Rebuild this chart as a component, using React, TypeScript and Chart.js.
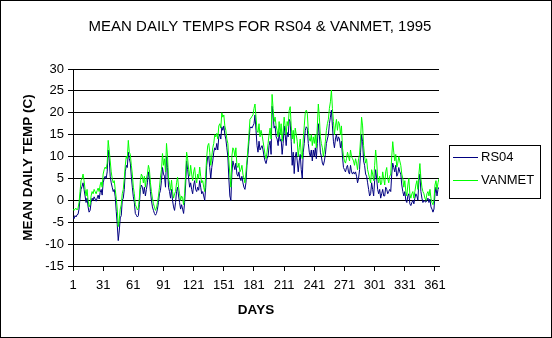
import { useEffect, useRef } from "react";
import { Chart, registerables } from "chart.js";

Chart.register(...registerables);

const FONT = '"Liberation Sans", Arial, sans-serif';
const TITLE = "MEAN DAILY TEMPS FOR RS04 & VANMET, 1995";
const Y_TITLE = "MEAN DAILY TEMP (C)";
const X_TITLE = "DAYS";

const X_TICKS = [1, 31, 61, 91, 121, 151, 181, 211, 241, 271, 301, 331, 361];
const Y_MIN = -15;
const Y_MAX = 30;
const Y_STEP = 5;

const VANMET = [
  -2.0, -2.3, -2.0, -1.8, -2.2, -1.8, -0.5, 2.0, 4.5, 5.0,
  6.0, 4.5, 2.5, 1.0, 2.5, 0.0, -1.5, -1.0, 1.0, 2.0,
  1.5, 2.5, 2.0, 1.5, 2.2, 2.8, 2.0, 3.5, 4.2, 3.0,
  6.0, 7.0, 7.6, 7.2, 8.5, 13.7, 11.5, 9.0, 6.5, 5.0,
  4.0, 4.5, 2.5, 0.5, -2.0, -6.0, -4.5, -2.0, -1.0, 1.5,
  2.5, 5.0, 8.0, 10.0, 9.5, 13.7, 11.0, 10.5, 8.0, 6.0,
  3.0, 1.5, -1.0, -1.5, -2.2, -1.8, 0.5, 4.5, 6.0, 5.5,
  4.0, 5.5, 3.0, 5.0, 6.0, 8.0, 7.0, 4.0, 2.0, 0.5,
  -0.8, -1.5, -2.3, -1.8, -0.5, 1.0, 3.0, 5.3, 7.0, 10.7,
  8.0, 9.5, 6.5, 13.0, 10.0, 5.0, 4.0, 2.3, 4.6, 2.0,
  0.5, 1.5, 2.0, 4.0, 5.3, 3.0, 1.5, 0.0, 1.0, 0.5,
  -1.0, 1.5, 6.0, 11.0, 9.5, 7.0, 5.5, 8.0, 6.0, 4.5,
  6.5, 7.5, 5.0, 4.0, 6.0, 5.0, 7.6, 5.5, 4.0, 4.5,
  3.0, 2.0, 6.0, 10.0, 12.5, 13.0, 11.0, 8.0, 10.0, 12.0,
  13.0, 15.0, 14.5, 15.3, 14.0, 17.0, 17.5, 16.5, 20.0, 19.0,
  19.5, 17.0, 16.0, 14.0, 13.0, 9.0, 6.0, 3.0, 10.0, 12.0,
  11.5, 10.0, 12.0, 8.0, 7.5, 8.5, 6.5, 7.0, 8.0, 6.0,
  5.0, 4.0, 6.5, 9.0, 12.0, 15.0, 18.5, 18.8, 19.2, 19.5,
  21.0, 22.0, 19.0, 16.0, 15.5, 17.5, 14.5, 16.0, 15.0, 13.5,
  12.0, 10.5, 9.5, 11.0, 13.0, 15.0, 16.5, 14.0, 24.2, 21.0,
  18.0, 19.0, 17.0, 16.0, 14.5, 18.0, 15.0, 17.5, 13.5, 16.0,
  19.0, 17.0, 15.0, 18.0, 17.0, 20.5, 21.4, 17.0, 14.0, 16.0,
  13.0, 16.5, 15.0, 13.5, 10.0, 12.0, 14.0, 10.5, 9.5, 14.0,
  17.0, 20.0, 20.6, 20.0, 16.0, 14.0, 13.5, 15.0, 12.5, 14.5,
  13.0, 15.0, 12.0, 17.0, 22.0, 19.0, 14.5, 13.0, 12.0, 10.0,
  11.5, 13.5, 16.0, 17.5, 18.5, 21.0, 22.5, 25.2, 21.0, 18.0,
  15.0, 17.0, 18.5, 16.0, 18.0, 17.5, 15.0, 17.0, 12.0, 10.0,
  9.0, 8.5, 9.5, 11.0, 10.0, 9.0, 11.5, 10.0, 9.5, 9.0,
  8.0, 9.5, 8.5, 7.0, 9.5, 10.5, 14.0, 19.0, 17.0, 12.5,
  10.0, 8.5, 9.5, 7.0, 6.0, 5.0, 4.0, 7.0, 6.0, 4.5,
  8.0, 11.5, 9.0, 5.0, 4.0, 5.5, 3.5, 4.0, 6.5, 5.0,
  3.5, 6.5, 7.5, 5.0, 4.0, 5.5, 6.0, 10.0, 13.4, 11.0,
  9.0, 10.5, 7.6, 8.5, 10.0, 9.0, 8.0, 6.0, 5.0, 3.0,
  4.5, 2.0, 1.0, 3.5, 5.0, 1.5, 0.5, 1.5, 2.0, 0.5,
  2.0, 3.5, 4.5, 2.5, 6.0, 8.4, 5.0, 3.0, 2.0, 1.5,
  0.5, 0.0, 1.5, 2.0, 1.0, 2.5, 0.5, -0.5, -1.0, 0.0,
  3.5, 4.5, 2.5, 4.0, 5.0,
];

const RS04 = [
  -3.8, -4.2, -3.5, -3.8, -3.3, -3.2, -2.0, 0.5, 2.5, 3.2,
  4.0, 2.5, 1.0, -0.5, 0.5, -1.5, -2.7, -2.3, -0.5, 0.5,
  0.0, 0.8, 0.3, -0.2, 0.5, 1.2, 0.3, 1.8, 2.5, 1.2,
  4.0, 5.0, 5.5, 5.0, 6.5, 11.5, 9.5, 5.5, 4.0, 3.0,
  2.0, 2.5, 0.8, -2.5, -5.5, -9.2, -7.0, -4.0, -3.5, 0.0,
  0.5, 2.5, 6.5, 8.0, 7.5, 11.0, 9.5, 8.5, 5.5, 3.0,
  0.8, -0.5, -3.0, -3.4, -3.8, -3.5, -1.0, 2.5, 3.5, 3.0,
  1.5, 3.0, 1.0, 2.5, 4.0, 6.5, 5.0, 2.0, 0.0, -1.5,
  -2.3, -3.0, -3.4, -3.0, -2.0, -0.5, 1.5, 2.3, 4.5, 7.5,
  6.0, 5.5, 3.0, 10.0, 7.5, 3.0, 2.0, 0.5, 2.5, 0.0,
  -1.5, -2.3, -0.5, 2.0, 3.0, 1.0, -0.5, -2.0, -1.0, -2.0,
  -3.0, -0.5, 3.5, 9.0, 7.0, 5.0, 3.0, 4.0, 2.5, 1.5,
  3.5, 4.5, 2.5, 2.0, 3.0, 2.3, 4.5, 3.0, 1.5, 2.0,
  1.0, 0.0, 3.0, 8.0, 10.0, 10.0, 7.5, 5.0, 7.5, 9.0,
  11.0, 12.0, 11.5, 13.0, 11.5, 14.5, 15.0, 14.0, 16.8, 16.0,
  17.0, 15.0, 14.0, 12.0, 10.0, 5.0, 1.0, 0.0, 6.0, 9.0,
  8.0, 7.0, 8.5, 6.0, 5.5, 6.5, 5.0, 4.5, 5.5, 4.0,
  3.0, 2.5, 4.0, 8.0, 10.5, 13.5, 16.5, 16.8, 16.5, 17.0,
  17.5, 19.5, 16.0, 12.5, 11.0, 13.5, 11.5, 12.0, 12.5, 11.5,
  10.0, 9.0, 8.4, 9.5, 10.0, 12.5, 13.5, 10.5, 21.5, 19.5,
  16.5, 17.0, 14.5, 14.0, 12.5, 15.5, 13.5, 14.0, 10.5, 13.0,
  17.0, 15.0, 12.5, 15.5, 14.5, 18.5, 18.0, 13.5, 8.0, 11.0,
  6.1, 10.0, 11.0, 9.0, 6.5, 9.0, 10.5, 7.0, 5.0, 11.0,
  13.0, 16.0, 16.8, 16.5, 13.0, 11.0, 10.0, 11.5, 9.0, 11.5,
  10.0, 12.0, 9.5, 13.0, 17.5, 15.0, 11.0, 10.0, 8.5, 8.0,
  9.0, 10.5, 13.0, 14.0, 15.0, 17.5, 19.0, 20.6, 17.0, 13.5,
  12.0, 14.0, 15.0, 13.5, 14.5, 14.0, 12.0, 13.5, 10.0, 7.5,
  7.0, 6.5, 7.5, 8.0, 6.5, 6.0, 8.0, 6.5, 6.0, 6.5,
  6.0, 6.5, 5.5, 4.0, 5.0, 7.0, 11.0, 15.0, 13.5, 9.0,
  8.0, 6.0, 5.5, 4.0, 2.5, 1.0, 1.5, 4.0, 2.5, 1.0,
  4.5, 7.0, 5.0, 2.5, 1.5, 2.5, 0.5, 1.5, 2.5, 1.0,
  1.0, 3.0, 2.5, 1.5, 2.0, 2.5, 2.0, 6.0, 8.5, 7.5,
  6.5, 8.0, 5.5, 6.0, 7.5, 6.5, 6.0, 3.5, 2.0, 1.0,
  2.0, 0.0, -0.5, 1.0, 1.5, -0.8, -1.2, -0.5, 0.0, -0.8,
  0.5, 1.5, 1.0, 0.0, 4.5, 6.0, 2.0, 0.5, -0.5, 0.0,
  -0.3, -0.4, 0.0, 0.5, -0.5, 0.3, -1.5, -2.0, -2.7, -2.0,
  1.5, 3.0, 1.0, 2.5, 3.0,
];

const DAYS = VANMET.map((_, i) => i + 1);

const decor = {
  id: "decor",
  beforeDraw(chart: any) {
    const { ctx, width, height } = chart;
    ctx.save();
    ctx.fillStyle = "#ffffff";
    ctx.fillRect(0, 0, width, height);
    ctx.restore();
  },
  afterDraw(chart: any) {
    const ctx = chart.ctx;
    ctx.save();
    ctx.fillStyle = "#000";
    ctx.font = `15px ${FONT}`;
    ctx.textAlign = "center";
    ctx.textBaseline = "middle";
    ctx.fillText(TITLE, 260, 27);

    ctx.lineWidth = 1;
    ctx.strokeStyle = "#000";
    ctx.strokeRect(449.5, 145.5, 91, 53);
    chart.data.datasets.forEach((ds: any, i: number) => {
      const y = 157.5 + i * 23;
      ctx.strokeStyle = ds.borderColor;
      ctx.beginPath();
      ctx.moveTo(453, y);
      ctx.lineTo(478, y);
      ctx.stroke();
      ctx.fillStyle = "#000";
      ctx.font = `13px ${FONT}`;
      ctx.textAlign = "left";
      ctx.textBaseline = "middle";
      ctx.fillText(ds.label, 481, y);
    });

    ctx.strokeStyle = "#000";
    ctx.strokeRect(0.5, 0.5, 551, 337);
    ctx.restore();
  },
};

export default function App() {
  const ref = useRef<HTMLCanvasElement | null>(null);

  useEffect(() => {
    document.body.style.margin = "0";
    const canvas = ref.current;
    if (!canvas) return;
    const chart = new Chart(canvas, {
      type: "line",
      data: {
        datasets: [
          {
            label: "RS04",
            data: DAYS.map((d, i) => ({ x: d, y: RS04[i] })),
            borderColor: "#000080",
            backgroundColor: "#000080",
            borderWidth: 1,
            pointRadius: 0,
            tension: 0,
            order: 1,
          },
          {
            label: "VANMET",
            data: DAYS.map((d, i) => ({ x: d, y: VANMET[i] })),
            borderColor: "#00ff00",
            backgroundColor: "#00ff00",
            borderWidth: 1,
            pointRadius: 0,
            tension: 0,
            order: 0,
          },
        ],
      },
      options: {
        responsive: false,
        animation: false,
        devicePixelRatio: 1,
        layout: { padding: { left: 0, right: 113, top: 69, bottom: 0 } },
        plugins: {
          legend: { display: false },
          title: { display: false },
          tooltip: { enabled: false },
        },
        scales: {
          x: {
            type: "linear",
            min: 1,
            max: 365,
            afterBuildTicks: (s: any) => {
              s.ticks = X_TICKS.map((v) => ({ value: v }));
            },
            afterFit: (s: any) => {
              s.height = 72;
            },
            ticks: {
              autoSkip: false,
              maxRotation: 0,
              color: "#000",
              padding: 7,
              font: { family: FONT, size: 13 },
            },
            grid: {
              drawOnChartArea: false,
              drawTicks: true,
              tickLength: 5,
              color: "#000",
            },
            border: { color: "#000", width: 1 },
            title: {
              display: true,
              text: X_TITLE,
              color: "#000",
              font: { family: FONT, size: 13.5, weight: "bold" },
              padding: { top: 0, bottom: 20 },
            },
          },
          y: {
            type: "linear",
            min: Y_MIN,
            max: Y_MAX,
            afterFit: (s: any) => {
              s.width = 73;
            },
            ticks: {
              stepSize: Y_STEP,
              color: "#000",
              padding: 4,
              font: { family: FONT, size: 13 },
            },
            grid: {
              color: "#000",
              tickLength: 5,
            },
            border: { color: "#000", width: 1 },
            title: {
              display: true,
              text: Y_TITLE,
              color: "#000",
              font: { family: FONT, size: 13.5, weight: "bold" },
              padding: { top: 20, bottom: 0 },
            },
          },
        },
      },
      plugins: [decor],
    });
    return () => chart.destroy();
  }, []);

  return (
    <div style={{ position: "fixed", left: 0, top: 0, width: 552, height: 338 }}>
      <canvas ref={ref} width={552} height={338} style={{ display: "block", width: 552, height: 338 }} />
    </div>
  );
}
